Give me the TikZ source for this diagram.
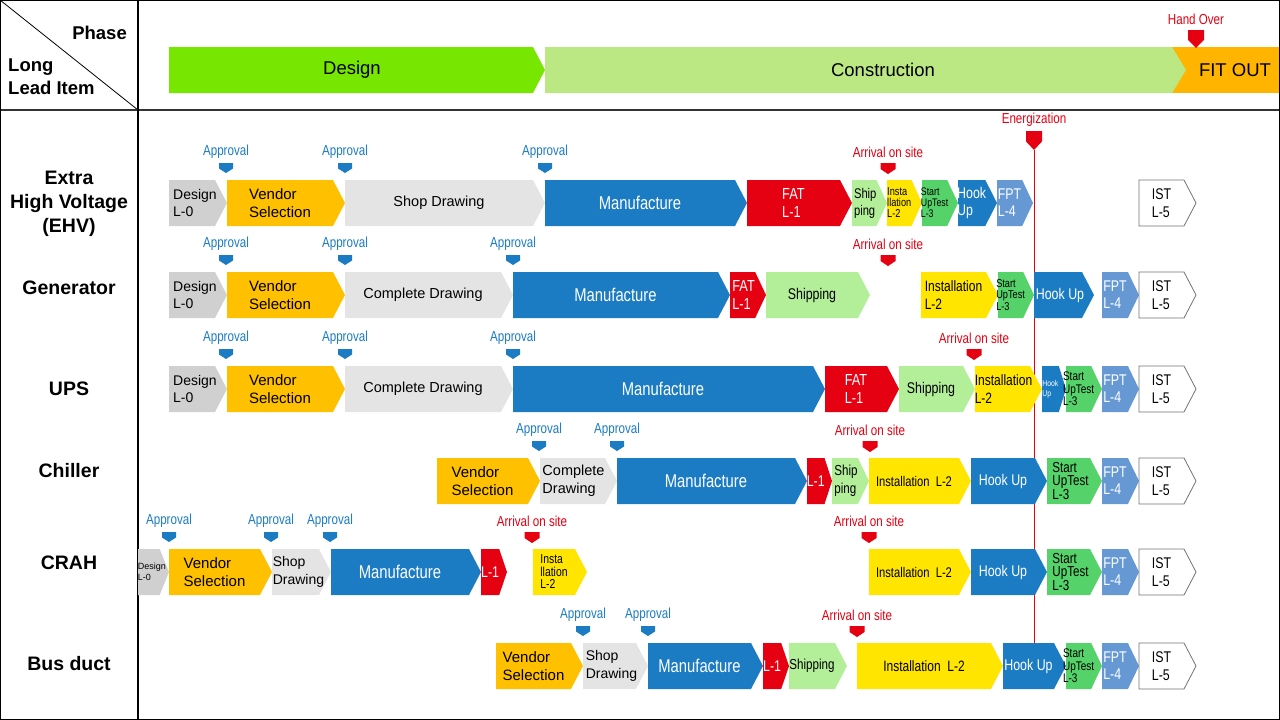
\documentclass[tikz,border=0pt]{standalone}
\usepackage{fontspec}
\setmainfont{Liberation Sans}
\newfontfamily\nf{Liberation Sans}
\newfontfamily\cf[FakeStretch=0.8]{Liberation Sans}
\newcommand\fz[2]{\fontsize{#1}{#2}\selectfont}
\definecolor{cDes}{HTML}{D0D0D0}
\definecolor{cLG}{HTML}{E4E4E4}
\definecolor{cVen}{HTML}{FFC000}
\definecolor{cBlu}{HTML}{1B7CC3}
\definecolor{cRed}{HTML}{E50012}
\definecolor{cShp}{HTML}{B3EE99}
\definecolor{cYel}{HTML}{FFE500}
\definecolor{cStu}{HTML}{55D26A}
\definecolor{cFpt}{HTML}{6699D4}
\definecolor{cPhD}{HTML}{77E600}
\definecolor{cPhC}{HTML}{BCE884}
\definecolor{cPhF}{HTML}{FFB400}
\definecolor{cApv}{HTML}{1B7CC3}
\definecolor{cArr}{HTML}{E50012}
\tikzset{
  ist/.style={fill=white,draw=black!55,line width=0.8pt},
  boxtxt/.style={inner sep=0pt},
  wt/.style={text=white},
  lab/.style={inner sep=0pt,font=\cf\fz{14.5}{16}},
}
% chevron: name, x1, x2, yc, path style, font, node opts, text
\newcommand\chv[8]{%
  \pgfmathsetmacro\tp{min(12,0.3*(#3-#2))}%
  \path[#5] (#2,#4-23) -- ({#3-\tp},#4-23) -- (#3,#4) -- ({#3-\tp},#4+23) -- (#2,#4+23) -- cycle;
  \node[boxtxt,#7,font=#6] (#1) at ({(#2+#3-\tp)/2},#4) {#8};
}
% marker: name, x, ytop, width, height, color, label
\newcommand\mkr[7]{%
  \fill[#6] ({#2-#4/2},#3) -- ({#2+#4/2},#3) -- ({#2+#4/2},{#3+#5*0.55}) -- (#2,{#3+#5}) -- ({#2-#4/2},{#3+#5*0.55}) -- cycle;
  \coordinate (#1) at (#2,{#3+#5});
  \node[lab,text=#6] (#1l) at (#2,{#3-11}) {#7};
}
\newcommand\apv[3]{\mkr{#1}{#2}{#3}{14}{10}{cApv}{Approval}}
\newcommand\arv[3]{\mkr{#1}{#2}{#3}{15}{11}{cArr}{Arrival on site}}
\begin{document}
\begin{tikzpicture}[x=1pt,y=-1pt]
\useasboundingbox (0,0) rectangle (1280,720);
% ---------- header ----------
\fill[cPhF] (1172,47) rectangle (1280,93);
\fill[cPhD] (169,47) -- (533,47) -- (545,70) -- (533,93) -- (169,93) -- cycle;
\fill[cPhC] (545,47) -- (1172,47) -- (1186,70) -- (1172,93) -- (545,93) -- cycle;
\node[font=\nf\fz{18.5}{20}] (phD) at (352,70) {Design};
\node[font=\nf\fz{18.5}{20}] (phC) at (883,70) {Construction};
\node[font=\nf\fz{18.5}{20}] (phF) at (1235,70) {FIT OUT};
\mkr{ho}{1196}{30}{16}{18}{cArr}{Hand Over}
\node[font=\nf\bfseries\fz{18.5}{22},anchor=east,inner sep=0pt] (hPh) at (127,33) {Phase};
\node[font=\nf\bfseries\fz{18.5}{23},anchor=west,align=left,inner sep=0pt] (hLL) at (8,77) {Long\\Lead Item};
% frame
\draw[line width=0.8pt] (0,0) -- (138,110);
\draw[line width=1.5pt,black!80] (0,110) -- (1280,110);
\draw[line width=1.2pt] (138,0) -- (138,720);
\draw[line width=1.8pt] (0,0) rectangle (1280,720);
% row labels
\tikzset{rl/.style={font=\nf\bfseries\fz{19.5}{24},align=center,inner sep=0pt}}
\node[rl] (r1) at (69,204) {Extra\\High Voltage\\(EHV)};
\node[rl] (r2) at (69,288) {Generator};
\node[rl] (r3) at (69,389) {UPS};
\node[rl] (r4) at (69,471) {Chiller};
\node[rl] (r5) at (69,563) {CRAH};
\node[rl] (r6) at (69,664) {Bus duct};
% energization line
\mkr{en}{1034}{131}{16}{19}{cArr}{Energization}
\coordinate (enEnd) at (1034,643);
\draw[cArr,line width=0.8pt] (en) -- (enEnd);
% ---------- Row 1: EHV ----------
\chv{a1}{169}{227}{203}{fill=cDes}{\nf\fz{14}{17}}{align=left,xshift=3}{Design\\L-0}
\chv{a2}{227}{345}{203}{fill=cVen}{\nf\fz{15}{18}}{align=left}{Vendor\\Selection}
\chv{a3}{345}{545}{203}{fill=cLG}{\nf\fz{14.5}{17}}{}{Shop Drawing}
\chv{a4}{545}{747}{203}{fill=cBlu}{\cf\fz{18.5}{20}}{wt}{Manufacture}
\chv{a5}{747}{852}{203}{fill=cRed}{\cf\fz{16}{18}}{wt,align=left}{FAT\\L-1}
\chv{a6}{852}{887}{203}{fill=cShp}{\cf\fz{14}{17}}{align=left,xshift=1}{Ship\\ping}
\chv{a7}{887}{922}{203}{fill=cYel}{\cf\fz{11.5}{11}}{align=left}{Insta\\llation\\L-2}
\chv{a8}{922}{958}{203}{fill=cStu}{\cf\fz{11}{11}}{align=left}{Start\\UpTest\\L-3}
\chv{a9}{958}{997}{203}{fill=cBlu}{\cf\fz{15.5}{17}}{wt,align=left}{Hook\\Up}
\chv{a10}{997}{1033}{203}{fill=cFpt}{\cf\fz{15.5}{17}}{wt,align=left}{FPT\\L-4}
\chv{a11}{1139}{1196}{203}{ist}{\cf\fz{15.5}{18}}{align=left}{IST\\L-5}
\apv{m11}{226}{163}\apv{m12}{345}{163}\apv{m13}{545}{163}\arv{m14}{888}{163}
% ---------- Row 2: Generator ----------
\chv{b1}{169}{227}{295}{fill=cDes}{\nf\fz{14}{17}}{align=left,xshift=3}{Design\\L-0}
\chv{b2}{227}{345}{295}{fill=cVen}{\nf\fz{15}{18}}{align=left}{Vendor\\Selection}
\chv{b3}{345}{513}{295}{fill=cLG}{\nf\fz{14.5}{17}}{}{Complete Drawing}
\chv{b4}{513}{730}{295}{fill=cBlu}{\cf\fz{18.5}{20}}{wt}{Manufacture}
\chv{b5}{730}{766}{295}{fill=cRed}{\cf\fz{16}{18}}{wt,align=left,xshift=1}{FAT\\L-1}
\chv{b6}{766}{870}{295}{fill=cShp}{\cf\fz{15.5}{18}}{}{Shipping}
\chv{b7}{921}{998}{295}{fill=cYel}{\cf\fz{15}{18}}{align=left}{Installation\\L-2}
\chv{b8}{998}{1034}{295}{fill=cStu}{\cf\fz{11.5}{11.5}}{align=left}{Start\\UpTest\\L-3}
\chv{b9}{1034}{1094}{295}{fill=cBlu}{\cf\fz{15.5}{18}}{wt,xshift=2}{Hook Up}
\chv{b10}{1102}{1139}{295}{fill=cFpt}{\cf\fz{15.5}{17}}{wt,align=left}{FPT\\L-4}
\chv{b11}{1139}{1196}{295}{ist}{\cf\fz{15.5}{18}}{align=left}{IST\\L-5}
\apv{m21}{226}{255}\apv{m22}{345}{255}\apv{m23}{513}{255}\arv{m24}{888}{255}
% ---------- Row 3: UPS ----------
\chv{c1}{169}{227}{389}{fill=cDes}{\nf\fz{14}{17}}{align=left,xshift=3}{Design\\L-0}
\chv{c2}{227}{345}{389}{fill=cVen}{\nf\fz{15}{18}}{align=left}{Vendor\\Selection}
\chv{c3}{345}{513}{389}{fill=cLG}{\nf\fz{14.5}{17}}{}{Complete Drawing}
\chv{c4}{513}{825}{389}{fill=cBlu}{\cf\fz{18.5}{20}}{wt}{Manufacture}
\chv{c5}{825}{899}{389}{fill=cRed}{\cf\fz{16}{18}}{wt,align=left}{FAT\\L-1}
\chv{c6}{899}{975}{389}{fill=cShp}{\cf\fz{15.5}{18}}{}{Shipping}
\chv{c7}{975}{1042}{389}{fill=cYel}{\cf\fz{15}{18}}{align=left,xshift=1}{Installation\\L-2}
\chv{c8}{1042}{1066}{389}{fill=cBlu}{\cf\fz{8.5}{10}}{wt,align=left}{Hook\\Up}
\chv{c9}{1066}{1102}{389}{fill=cStu}{\cf\fz{12.5}{12.5}}{align=left}{Start\\UpTest\\L-3}
\chv{c10}{1102}{1139}{389}{fill=cFpt}{\cf\fz{15.5}{17}}{wt,align=left}{FPT\\L-4}
\chv{c11}{1139}{1196}{389}{ist}{\cf\fz{15.5}{18}}{align=left}{IST\\L-5}
\apv{m31}{226}{349}\apv{m32}{345}{349}\apv{m33}{513}{349}\arv{m34}{974}{349}
% ---------- Row 4: Chiller ----------
\chv{d1}{437}{540}{481}{fill=cVen}{\nf\fz{15}{18}}{align=left}{Vendor\\Selection}
\chv{d2}{540}{617}{481}{fill=cLG}{\nf\fz{14.5}{18}}{align=left,xshift=1}{Complete\\Drawing}
\chv{d3}{617}{807}{481}{fill=cBlu}{\cf\fz{18.5}{20}}{wt}{Manufacture}
\chv{d4}{807}{832}{481}{fill=cRed}{\cf\fz{15.5}{18}}{wt}{L-1}
\chv{d5}{832}{869}{481}{fill=cShp}{\cf\fz{14.5}{18}}{align=left,xshift=1}{Ship\\ping}
\chv{d6}{869}{971}{481}{fill=cYel}{\cf\fz{14}{18}}{}{Installation~~L-2}
\chv{d7}{971}{1047}{481}{fill=cBlu}{\cf\fz{15.5}{18}}{wt}{Hook Up}
\chv{d8}{1047}{1102}{481}{fill=cStu}{\cf\fz{14.5}{13}}{align=left,xshift=2}{Start\\UpTest\\L-3}
\chv{d9}{1102}{1139}{481}{fill=cFpt}{\cf\fz{15.5}{17}}{wt,align=left}{FPT\\L-4}
\chv{d10}{1139}{1196}{481}{ist}{\cf\fz{15.5}{18}}{align=left}{IST\\L-5}
\apv{m41}{539}{441}\apv{m42}{617}{441}\arv{m43}{870}{441}
% ---------- Row 5: CRAH ----------
\chv{e1}{138}{169}{572}{fill=cDes}{\nf\fz{9}{11}}{align=left,xshift=3}{Design\\L-0}
\chv{e2}{169}{272}{572}{fill=cVen}{\nf\fz{15}{18}}{align=left}{Vendor\\Selection}
\chv{e3}{272}{331}{572}{fill=cLG}{\nf\fz{14}{18}}{align=left,xshift=3}{Shop\\Drawing}
\chv{e4}{331}{481}{572}{fill=cBlu}{\cf\fz{18.5}{20}}{wt}{Manufacture}
\chv{e5}{481}{507}{572}{fill=cRed}{\cf\fz{15.5}{18}}{wt}{L-1}
\chv{e6}{533}{587}{572}{fill=cYel}{\cf\fz{13}{12.5}}{align=left}{Insta\\llation\\L-2}
\chv{e7}{869}{971}{572}{fill=cYel}{\cf\fz{14}{18}}{}{Installation~~L-2}
\chv{e8}{971}{1047}{572}{fill=cBlu}{\cf\fz{15.5}{18}}{wt}{Hook Up}
\chv{e9}{1047}{1102}{572}{fill=cStu}{\cf\fz{14.5}{13}}{align=left,xshift=2}{Start\\UpTest\\L-3}
\chv{e10}{1102}{1139}{572}{fill=cFpt}{\cf\fz{15.5}{17}}{wt,align=left}{FPT\\L-4}
\chv{e11}{1139}{1196}{572}{ist}{\cf\fz{15.5}{18}}{align=left}{IST\\L-5}
\apv{m51}{169}{532}\apv{m52}{271}{532}\apv{m53}{330}{532}\arv{m54}{532}{532}\arv{m55}{869}{532}
% ---------- Row 6: Bus duct ----------
\chv{f1}{496}{583}{666}{fill=cVen}{\nf\fz{15}{18}}{align=left}{Vendor\\Selection}
\chv{f2}{583}{648}{666}{fill=cLG}{\nf\fz{14}{18}}{align=left,xshift=2}{Shop\\Drawing}
\chv{f3}{648}{763}{666}{fill=cBlu}{\cf\fz{18.5}{20}}{wt}{Manufacture}
\chv{f4}{763}{789}{666}{fill=cRed}{\cf\fz{15.5}{18}}{wt}{L-1}
\chv{f5}{789}{847}{666}{fill=cShp}{\cf\fz{14.5}{18}}{}{Shipping}
\chv{f6}{857}{1003}{666}{fill=cYel}{\cf\fz{15}{18}}{}{Installation~~L-2}
\chv{f7}{1003}{1066}{666}{fill=cBlu}{\cf\fz{15.5}{18}}{wt}{Hook Up}
\chv{f8}{1066}{1102}{666}{fill=cStu}{\cf\fz{12.5}{12.5}}{align=left}{Start\\UpTest\\L-3}
\chv{f9}{1102}{1139}{666}{fill=cFpt}{\cf\fz{15.5}{17}}{wt,align=left}{FPT\\L-4}
\chv{f10}{1139}{1196}{666}{ist}{\cf\fz{15.5}{18}}{align=left}{IST\\L-5}
\apv{m61}{583}{626}\apv{m62}{648}{626}\arv{m63}{857}{626}
\end{tikzpicture}
\end{document}
